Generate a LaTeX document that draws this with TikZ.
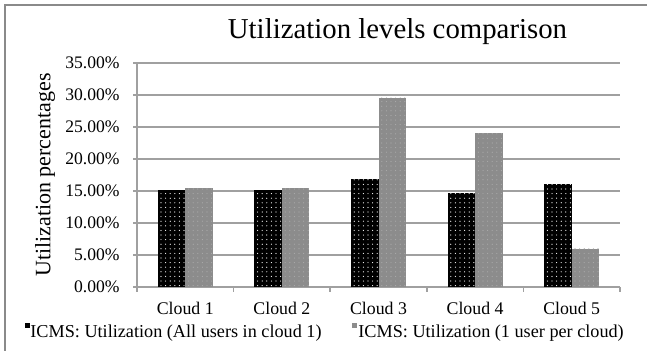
\documentclass[tikz,border=0pt]{standalone}
\usepackage{fontspec}
\setmainfont{Liberation Serif}
\usetikzlibrary{patterns, positioning}

\definecolor{gridgray}{HTML}{A0A0A0}
\definecolor{framegray}{HTML}{8A8A8A}
\definecolor{bargray}{HTML}{8C8C8C}
\definecolor{dotgray}{HTML}{ABABAB}

\pgfdeclarepatternformonly{finedots}{\pgfqpoint{-0.5pt}{-0.5pt}}{\pgfqpoint{0.5pt}{0.5pt}}{\pgfqpoint{2.3pt}{2.3pt}}{%
  \pgfpathcircle{\pgfqpoint{0pt}{0pt}}{0.3pt}\pgfusepath{fill}}

\tikzset{
  gridline/.style={draw=gridgray, line width=0.8pt},
  allbar/.style={fill=black, postaction={pattern=finedots, pattern color=white}},
  onebar/.style={fill=bargray, postaction={pattern=finedots, pattern color=dotgray}},
  ticklabel/.style={font=\fontsize{8.8}{10}\selectfont, anchor=east, inner sep=0pt},
  catlabel/.style={font=\fontsize{8.9}{10}\selectfont, anchor=base, inner sep=0pt},
  legend/.style={font=\fontsize{9.1}{10}\selectfont, anchor=base west, inner sep=0pt},
  keybox/.style={minimum size=2.5pt, inner sep=0pt, anchor=north west},
}

\begin{document}
\begin{tikzpicture}[x=0.5pt, y=-0.5pt]
  \useasboundingbox (0,0) rectangle (647,350);
  \clip (0,0) rectangle (647,350);
  \draw[framegray, line width=0.8pt] (5,5) rectangle (660,360);

  \node[font=\fontsize{14.4}{16}\selectfont, anchor=base] (title) at (397.5,38) {Utilization levels comparison};
  \node[rotate=90, font=\fontsize{11}{12}\selectfont] (ytitle) at (45,175) {Utilization percentages};

  % grid lines and value labels
  \foreach \v in {0,5,...,35} {
    \draw[gridline] (133,{287-6.4*\v}) -- (620,{287-6.4*\v});
    \node[ticklabel] (tick\v) at (120,{287-6.4*\v}) {\v.00\%};
  }
  \draw[gridline] (137,62) -- (137,287);
  \foreach \k in {0,...,5}
    \draw[gridline] (137+96.6*\k,287) -- (137+96.6*\k,292);

  % bars
  \foreach \a/\b [count=\i] in {15.2/15.5, 15.2/15.5, 16.8/29.6, 14.7/24.0, 16.1/6.0} {
    \pgfmathsetmacro\c{137+96.6*(\i-0.5)}
    \fill[allbar] (\c-27.5,287) rectangle (\c,{287-6.4*\a});
    \fill[onebar] (\c,287) rectangle (\c+27.5,{287-6.4*\b});
    \node[catlabel] (cloud\i) at (\c,314) {Cloud \i};
  }

  % legend
  \node[keybox, fill=black] (keyall) at (25,323) {};
  \node[legend] (legall) at (30,337) {ICMS: Utilization (All users in cloud 1)};
  \node[keybox, fill=bargray] (keyone) at (352,323) {};
  \node[legend] (legone) at (358,337) {ICMS: Utilization (1 user per cloud)};
\end{tikzpicture}
\end{document}
